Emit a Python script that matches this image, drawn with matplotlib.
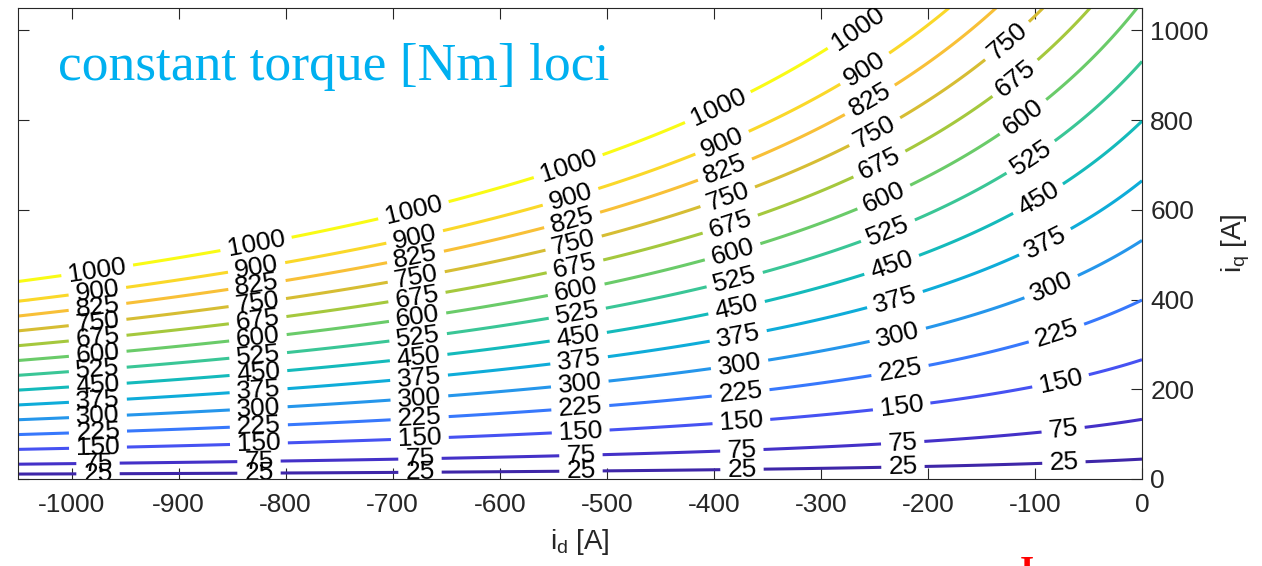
import numpy as np
import matplotlib
matplotlib.use("Agg")
import matplotlib.pyplot as plt
from matplotlib.colors import LinearSegmentedColormap

# IPM machine used for the torque map
POLE_PAIRS = 4
PSI_M = 0.094       # PM flux linkage [Vs]
L_D = 0.000150      # d-axis inductance [H]
L_Q = 0.000421      # q-axis inductance [H]

ID_LIM = (-1050, 0)
IQ_LIM = (0, 1050)

TORQUE_LEVELS = [25, 75, 150, 225, 300, 375, 450, 525, 600, 675, 750, 825, 900, 1000]
X_TICKS = list(range(-1000, 1, 100))
Y_TICKS = list(range(0, 1001, 200))

# parula-like colormap
PARULA = [
    (0.2422, 0.1504, 0.6603), (0.2645, 0.1913, 0.7812), (0.2780, 0.2700, 0.9080),
    (0.2700, 0.3700, 0.9850), (0.2200, 0.4650, 0.9900), (0.1700, 0.5450, 0.9600),
    (0.1300, 0.6100, 0.9000), (0.0600, 0.6700, 0.8600), (0.0200, 0.7050, 0.7900),
    (0.1000, 0.7400, 0.7100), (0.2000, 0.7700, 0.6200), (0.3000, 0.7900, 0.5100),
    (0.4500, 0.8000, 0.3800), (0.6000, 0.7900, 0.2700), (0.7400, 0.7700, 0.1800),
    (0.8500, 0.7400, 0.2000), (0.9500, 0.7300, 0.2300), (0.9950, 0.7800, 0.2000),
    (0.9800, 0.8500, 0.1600), (0.9600, 0.9200, 0.1100), (0.9769, 0.9839, 0.0805),
]
cmap = LinearSegmentedColormap.from_list("parula", PARULA)

plt.rcParams["font.family"] = ["Liberation Sans", "DejaVu Sans"]
plt.rcParams["mathtext.default"] = "regular"
plt.rcParams["axes.unicode_minus"] = False

TXT = "#262626"


def torque(i_d, i_q):
    return 1.5 * POLE_PAIRS * (PSI_M + (L_D - L_Q) * i_d) * i_q


def label_points(ax, segs, spacing=161.0, start=80.0, margin=30.0):
    # labels every `spacing` pixels along each locus, like MATLAB's LabelSpacing
    pts = []
    inv = ax.transData.inverted()
    for seg in segs:
        if len(seg) < 2:
            continue
        if seg[0, 0] > seg[-1, 0]:
            seg = seg[::-1]
        disp = ax.transData.transform(seg)
        d = np.hypot(*np.diff(disp, axis=0).T)
        s = np.concatenate([[0.0], np.cumsum(d)])
        pos = start
        while pos < s[-1] - margin:
            x = np.interp(pos, s, disp[:, 0])
            y = np.interp(pos, s, disp[:, 1])
            pts.append(inv.transform((x, y)))
            pos += spacing
    return pts


fig = plt.figure(figsize=(12.62, 5.66), dpi=100)
ax = fig.add_axes([18 / 1262, 1 - 479 / 566, (1142 - 18) / 1262, (479 - 8) / 566])
ax.set_xlim(*ID_LIM)
ax.set_ylim(*IQ_LIM)

i_d = np.linspace(ID_LIM[0], ID_LIM[1], 500)
i_q = np.linspace(IQ_LIM[0], IQ_LIM[1], 500)
ID, IQ = np.meshgrid(i_d, i_q)
T = torque(ID, IQ)

cs = ax.contour(ID, IQ, T, levels=TORQUE_LEVELS, cmap=cmap,
                vmin=TORQUE_LEVELS[0], vmax=TORQUE_LEVELS[-1], linewidths=2.2)

pts = []
for segs in cs.allsegs:
    pts.extend(label_points(ax, segs))
ax.clabel(cs, manual=pts, inline=True, inline_spacing=7, fontsize=19,
          colors="black", fmt="%d")

ax.set_xticks(X_TICKS)
ax.set_yticks(Y_TICKS)
ax.yaxis.tick_right()
ax.yaxis.set_label_position("right")
ax.tick_params(direction="in", length=8, width=0.8, colors=TXT, labelsize=19,
               top=True, bottom=True, left=True, right=True)
ax.tick_params(axis="x", pad=10)
ax.tick_params(axis="y", pad=6)
for sp in ax.spines.values():
    sp.set_color(TXT)
    sp.set_linewidth(0.8)

ax.set_xlabel("i$_d$ [A]", fontsize=20, color=TXT, labelpad=7)
ax.set_ylabel("i$_q$ [A]", fontsize=20, color=TXT, labelpad=8)

fig.text(58 / 1262, 1 - 80 / 566, "constant torque [Nm] loci", color="#00b0f0",
         fontsize=38.5, family=["Liberation Serif", "DejaVu Serif"],
         ha="left", va="baseline")
fig.text(1027 / 1262, 0.017, "I", color="red", fontsize=26, weight="bold",
         family=["Liberation Serif", "DejaVu Serif"], ha="center", va="top")

fig.savefig("out.png", dpi=100)
